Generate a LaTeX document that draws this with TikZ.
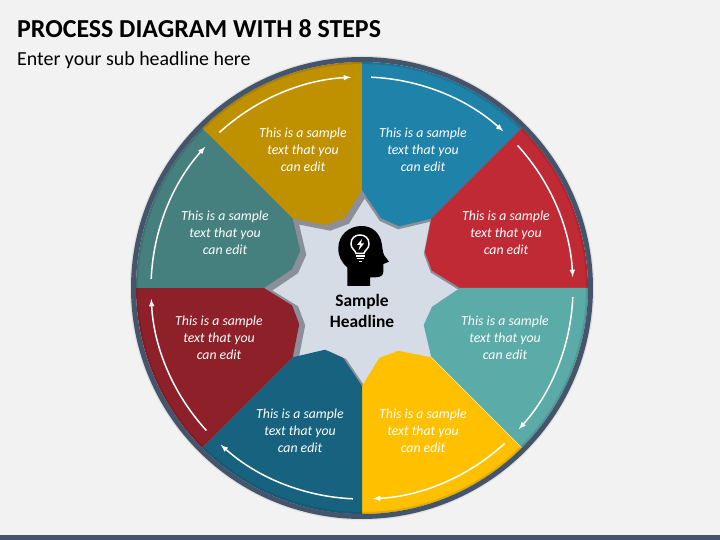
\documentclass[tikz,border=0pt]{standalone}
\usepackage{fontspec}
\setmainfont{Carlito}
\definecolor{pagebg}{HTML}{F2F2F2}
\definecolor{ringblue}{HTML}{44546A}
\definecolor{starfill}{HTML}{D6DCE5}
\definecolor{shadegray}{HTML}{8B8F99}
\definecolor{cgold}{HTML}{BF9000}
\definecolor{cblue}{HTML}{1F82A9}
\definecolor{cred}{HTML}{C02A35}
\definecolor{cmint}{HTML}{5BABA9}
\definecolor{cyellow}{HTML}{FFC000}
\definecolor{cnavy}{HTML}{17627E}
\definecolor{cwine}{HTML}{8E2029}
\definecolor{cteal}{HTML}{45807F}
\newcommand{\wedgepath}[1]{({#1}:98pt) -- ({#1+14}:72pt) -- ({#1+30}:72.5pt) -- ({#1+45}:98pt) -- ({#1+45}:226pt) arc [start angle={#1+45}, end angle={#1}, radius=226pt] -- cycle}
\tikzset{
  steptext/.style={text=white, font=\fontsize{13.8}{17}\selectfont\itshape, align=center, inner sep=0pt},
  steparrow/.style={-latex, white, line width=1.5pt},
}
\begin{document}
\begin{tikzpicture}[x=1pt,y=1pt]
  \fill[pagebg] (-362,-252) rectangle (358,288);
  \useasboundingbox (-362,-252) rectangle (358,288);
  \fill[ringblue] (-362,-252) rectangle (358,-247);
  \node[anchor=west, inner sep=0pt, font=\fontsize{25.9}{30}\selectfont\bfseries] (title) at (-345,259) {PROCESS DIAGRAM WITH 8 STEPS};
  \node[anchor=west, inner sep=0pt, font=\fontsize{19.9}{24}\selectfont] (subtitle) at (-345,228) {Enter your sub headline here};
  % star behind the steps
  \fill[starfill] (0:98pt) -- (22.5:80pt) -- (45:98pt) -- (67.5:80pt) -- (90:98pt) -- (112.5:80pt) -- (135:98pt) -- (157.5:80pt) -- (180:98pt) -- (202.5:80pt) -- (225:98pt) -- (247.5:80pt) -- (270:98pt) -- (292.5:80pt) -- (315:98pt) -- (337.5:80pt) -- cycle;
  % shadows
  \fill[shadegray, shift={(4.5,-5.5)}] \wedgepath{90};
  \fill[shadegray, shift={(6,-4)}] \wedgepath{135};
  \fill[shadegray, shift={(6,-1)}] \wedgepath{180};
  \fill[shadegray, shift={(3,-1)}] \wedgepath{225};
  \fill[shadegray, shift={(-1,-3)}] \wedgepath{45};
  \fill[shadegray, shift={(-1,-2)}] \wedgepath{0};
  % steps
  \fill[cgold] \wedgepath{90};
  \fill[cblue] \wedgepath{45};
  \fill[cred] \wedgepath{0};
  \fill[cmint] \wedgepath{315};
  \fill[cyellow] \wedgepath{270};
  \fill[cnavy] \wedgepath{225};
  \fill[cwine] \wedgepath{180};
  \fill[cteal] \wedgepath{135};
  \draw[cyellow!35, line width=0.6pt] (315:98pt) -- (315:226pt);
  % rim
  \draw[black, opacity=0.1, line width=2pt] (0,0) circle (225pt);
  \draw[black!12, line width=1.5pt] (0,0) circle (231.5pt);
  \draw[ringblue, line width=5pt] (0,0) circle (228.5pt);
  % arrows
  \draw[steparrow] (87.5:211pt) arc [start angle=87.5, end angle=48, radius=211pt];
  \draw[steparrow] (42.5:211pt) arc [start angle=42.5, end angle=3, radius=211pt];
  \draw[steparrow] (-2.5:211pt) arc [start angle=-2.5, end angle=-42, radius=211pt];
  \draw[steparrow] (-47.5:211pt) arc [start angle=-47.5, end angle=-87, radius=211pt];
  \draw[steparrow] (-92.5:211pt) arc [start angle=-92.5, end angle=-132, radius=211pt];
  \draw[steparrow] (-137.5:211pt) arc [start angle=-137.5, end angle=-177, radius=211pt];
  \draw[steparrow] (177.5:211pt) arc [start angle=177.5, end angle=138, radius=211pt];
  \draw[steparrow] (132.5:211pt) arc [start angle=132.5, end angle=93, radius=211pt];
  % labels
  \node[steptext] (stepa) at (61,138) {This is a sample\\text that you\\can edit};
  \node[steptext] (stepb) at (144,55) {This is a sample\\text that you\\can edit};
  \node[steptext] (stepc) at (143,-50) {This is a sample\\text that you\\can edit};
  \node[steptext] (stepd) at (61,-143) {This is a sample\\text that you\\can edit};
  \node[steptext] (stepe) at (-62,-143) {This is a sample\\text that you\\can edit};
  \node[steptext] (stepf) at (-143,-50) {This is a sample\\text that you\\can edit};
  \node[steptext] (stepg) at (-137,55) {This is a sample\\text that you\\can edit};
  \node[steptext] (steph) at (-59,138) {This is a sample\\text that you\\can edit};
  \node[font=\fontsize{17.4}{21}\selectfont\bfseries, align=center, inner sep=0pt] (headline) at (0,-22.5) {Sample\\Headline};
  % head with bulb
  \fill[black] (-14.7,2) -- (-14.7,20.7) .. controls (-21,26) and (-23.7,32) .. (-23.7,39.7) .. controls (-23.7,53) and (-13,62) .. (-0.3,62) .. controls (11,62) and (18,54) .. (19.7,44.7) .. controls (20.5,40) and (20.5,37) .. (22,33) -- (27,26.3) -- (21.3,24) -- (21.3,16) .. controls (21,12) and (18,10.7) .. (13,10.7) -- (8,10.7) -- (8,2) -- cycle;
  \draw[white, line width=1.5pt] (-6,34.5) .. controls (-6.5,38) and (-11,39) .. (-11,44) .. controls (-11,50) and (-7,53) .. (-2,53) .. controls (3,53) and (7,50) .. (7,44) .. controls (7,39) and (2.5,38) .. (2,34.5) -- cycle;
  \fill[white] (0,49) -- (-5,43) -- (-2,43) -- (-3.5,37.5) -- (2,44.5) -- (-1,44.5) -- cycle;
  \draw[white, line width=1.2pt] (-6.5,32) -- (2.5,32);
  \draw[white, line width=1.2pt] (-5.5,29.3) -- (1.5,29.3);
  \draw[white, line width=1.2pt] (-3.5,26.8) -- (-0.5,26.8);
\end{tikzpicture}
\end{document}
